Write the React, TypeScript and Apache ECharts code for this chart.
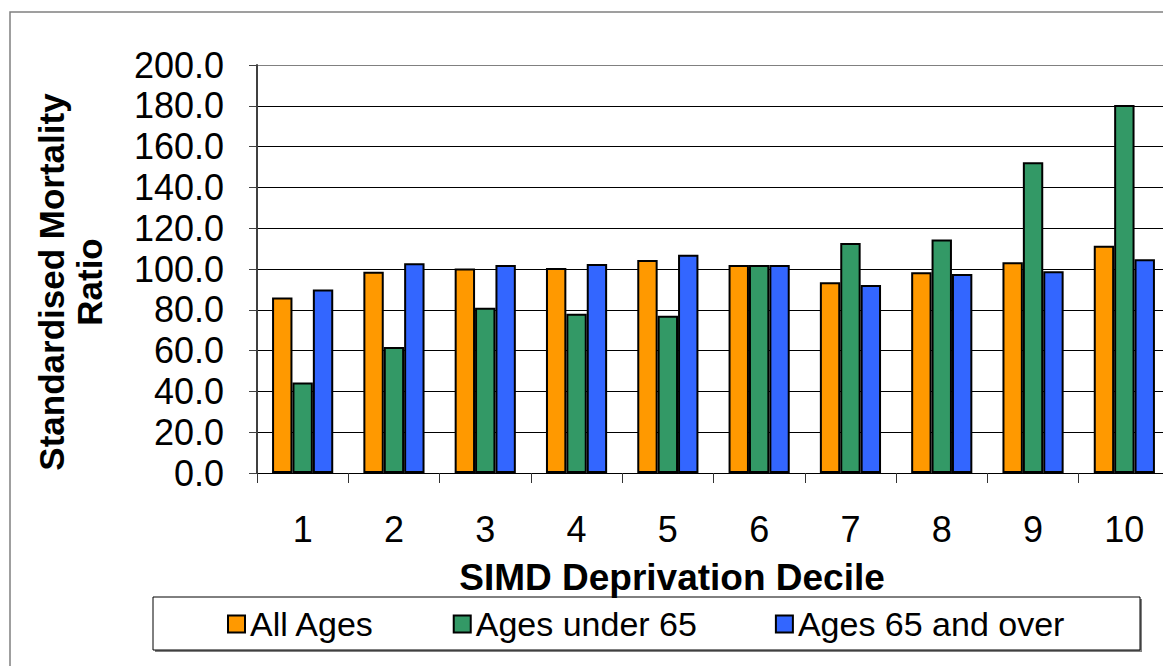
import React, { useEffect, useRef } from "react";
import * as echarts from "echarts";

// SIMD deprivation deciles (1 = most deprived ... 10)
const deciles = ["1", "2", "3", "4", "5", "6", "7", "8", "9", "10"];

// Standardised mortality ratios per decile
const allAges = [86.0, 98.7, 100.3, 100.5, 104.4, 102.0, 93.5, 98.4, 103.3, 111.4];
const agesUnder65 = [44.4, 61.8, 81.0, 78.1, 77.1, 102.0, 112.7, 114.4, 152.3, 180.4];
const ages65AndOver = [90.0, 102.8, 102.0, 102.5, 107.0, 102.0, 92.2, 97.5, 98.9, 104.8];

const seriesNames = ["All Ages", "Ages under 65", "Ages 65 and over"];
const seriesColors = ["#FF9900", "#339966", "#3366FF"];

const FONT = "'Liberation Sans', Arial, Helvetica, sans-serif";

export default function App() {
  const ref = useRef<HTMLDivElement>(null);

  useEffect(() => {
    if (!ref.current) return;
    const chart = echarts.init(ref.current, null, { renderer: "svg" });

    const values = [allAges, agesUnder65, ages65AndOver];

    // grid lines: dark for 0..180, grey plot-area edge at 200
    const splitColors = [
      "#000", "#000", "#000", "#000", "#000", "#000",
      "#000", "#000", "#000", "#000", "#808080",
    ];

    chart.setOption({
      animation: false,
      backgroundColor: "#fff",
      textStyle: { fontFamily: FONT },
      grid: {
        left: 257,
        top: 65,
        right: -7,
        bottom: 193,
        outerBoundsMode: "none",
        containLabel: false,
      },
      legend: {
        data: seriesNames,
        left: 227,
        top: 606,
        padding: 0,
        itemWidth: 17,
        itemHeight: 17,
        itemGap: 78,
        icon: "rect",
        z: 10,
        textStyle: {
          fontFamily: FONT,
          fontSize: 34,
          color: "#000",
          lineHeight: 36,
        },
      },
      xAxis: {
        type: "category",
        data: deciles,
        boundaryGap: true,
        axisLine: { show: true, lineStyle: { color: "#000", width: 1 } },
        axisTick: {
          show: true,
          inside: false,
          length: 10,
          lineStyle: { color: "#333", width: 1 },
        },
        axisLabel: {
          fontFamily: FONT,
          fontSize: 36,
          color: "#000",
          margin: 38,
        },
        splitLine: { show: false },
      },
      yAxis: {
        type: "value",
        min: 0,
        max: 200,
        interval: 20,
        axisLine: { show: true, lineStyle: { color: "#404040", width: 2 } },
        axisTick: {
          show: true,
          inside: false,
          length: 8,
          lineStyle: { color: "#404040", width: 1 },
        },
        axisLabel: {
          fontFamily: FONT,
          fontSize: 36,
          color: "#000",
          margin: 33,
          formatter: (v: number) => v.toFixed(1),
        },
        splitLine: {
          show: true,
          lineStyle: { color: splitColors, width: 1.2 },
        },
      },
      series: values.map((data, i) => ({
        name: seriesNames[i],
        type: "bar",
        data,
        barGap: "0%",
        barCategoryGap: "33%",
        itemStyle: {
          color: seriesColors[i],
          borderColor: "#000",
          borderWidth: 2,
        },
      })),
      graphic: [
        // outer chart frame
        {
          type: "rect",
          z: 0,
          shape: { x: 10, y: 12, width: 1220, height: 720 },
          style: { fill: "none", stroke: "#808080", lineWidth: 1.5 },
          silent: true,
        },
        // legend box shadow and box
        {
          type: "rect",
          z: 1,
          shape: { x: 155, y: 599, width: 987, height: 53 },
          style: { fill: "#808080" },
          silent: true,
        },
        {
          type: "rect",
          z: 2,
          shape: { x: 153, y: 597, width: 987, height: 53 },
          style: { fill: "#fff", stroke: "#000", lineWidth: 1 },
          silent: true,
        },
        // axis titles
        {
          type: "text",
          z: 3,
          x: 672,
          y: 577,
          style: {
            text: "SIMD Deprivation Decile",
            fontFamily: FONT,
            fontSize: 37,
            fontWeight: "bold",
            fill: "#000",
            textAlign: "center",
            textVerticalAlign: "middle",
          },
          silent: true,
        },
        {
          type: "text",
          z: 3,
          x: 70,
          y: 282,
          rotation: Math.PI / 2,
          style: {
            text: "Standardised Mortality\nRatio",
            fontFamily: FONT,
            fontSize: 35,
            fontWeight: "bold",
            lineHeight: 38,
            fill: "#000",
            textAlign: "center",
            textVerticalAlign: "middle",
          },
          silent: true,
        },
      ],
    });

    return () => chart.dispose();
  }, []);

  return (
    <div
      ref={ref}
      style={{ position: "absolute", left: 0, top: 0, width: 1163, height: 666 }}
    />
  );
}
